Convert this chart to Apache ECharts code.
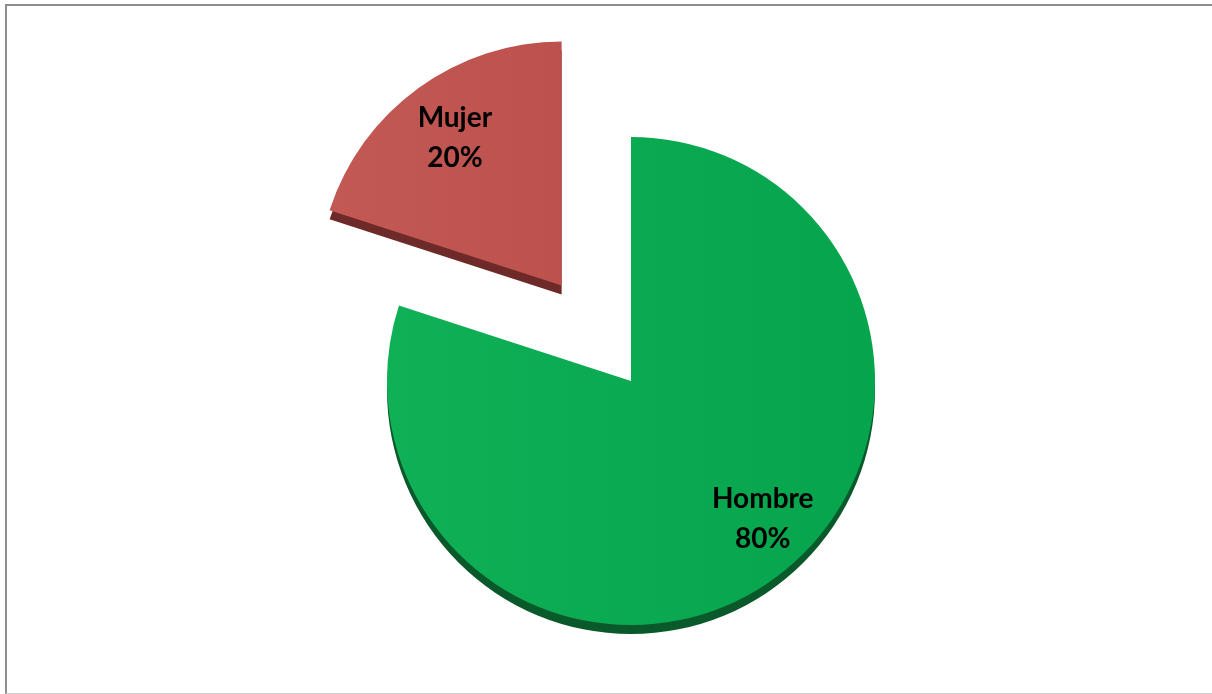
<!DOCTYPE html>
<html>
<head>
<meta charset="utf-8">
<script src="https://cdn.jsdelivr.net/npm/echarts@6/dist/echarts.min.js"></script>
<style>
  html, body { margin: 0; padding: 0; background: #ffffff; overflow: hidden; }
  #frame { position: absolute; left: 5px; top: 4px; width: 1230px; height: 687px;
           border-left: 2px solid #8e8e8e; border-top: 2px solid #8e8e8e;
           border-bottom: 1px solid #cfcfcf; }
  #chart { position: absolute; left: 0; top: 0; width: 1212px; height: 694px; }
</style>
</head>
<body>
<div id="frame"></div>
<div id="chart"></div>
<script>
const categories = ['Hombre', 'Mujer'];
const values = [80, 20];
const explodedCategory = 'Mujer';

const faceColors = {
  Hombre: { type: 'linear', x: 0, y: 0, x2: 1, y2: 0,
            colorStops: [{ offset: 0, color: '#10b057' }, { offset: 1, color: '#05a44d' }] },
  Mujer:  { type: 'linear', x: 0, y: 0, x2: 1, y2: 0,
            colorStops: [{ offset: 0, color: '#c35955' }, { offset: 1, color: '#bc514d' }] }
};
const sideColors = { Hombre: '#0a592a', Mujer: '#6d2a28' };

function buildData(colorMap) {
  return categories.map((c, i) => ({
    name: c,
    value: values[i],
    selected: c === explodedCategory,
    itemStyle: colorMap ? { color: colorMap[c] } : { color: 'rgba(0,0,0,0)' }
  }));
}

const R = 244;
const cx = 631, cy = 381, depth = 9, explode = 118;

const common = {
  type: 'pie',
  startAngle: 90,
  clockwise: true,
  selectedMode: 'multiple',
  selectedOffset: explode,
  animation: false,
  silent: true,
  emphasis: { disabled: true },
  labelLine: { show: false }
};

const chart = echarts.init(document.getElementById('chart'), null, { renderer: 'canvas' });
chart.setOption({
  backgroundColor: 'transparent',
  series: [
    Object.assign({}, common, {
      name: 'side',
      center: [cx, cy + depth],
      radius: [0, R],
      label: { show: false },
      data: buildData(sideColors)
    }),
    Object.assign({}, common, {
      name: 'face',
      center: [cx, cy],
      radius: [0, R],
      label: { show: false },
      data: buildData(faceColors)
    }),
    Object.assign({}, common, {
      name: 'labels',
      center: [cx, cy],
      radius: [0, R * 1.52],
      z: 10,
      label: {
        show: true,
        position: 'inside',
        formatter: '{b}\n{d}%',
        color: '#000000',
        fontFamily: 'Lato',
        fontWeight: 'bold',
        fontSize: 28,
        lineHeight: 40,
        align: 'center'
      },
      labelLayout: function (p) {
        if (p.dataIndex === 0) return { dx: 21, dy: -14 };
        return { dx: 4, dy: 5 };
      },
      data: buildData(null)
    })
  ]
});
</script>
</body>
</html>
